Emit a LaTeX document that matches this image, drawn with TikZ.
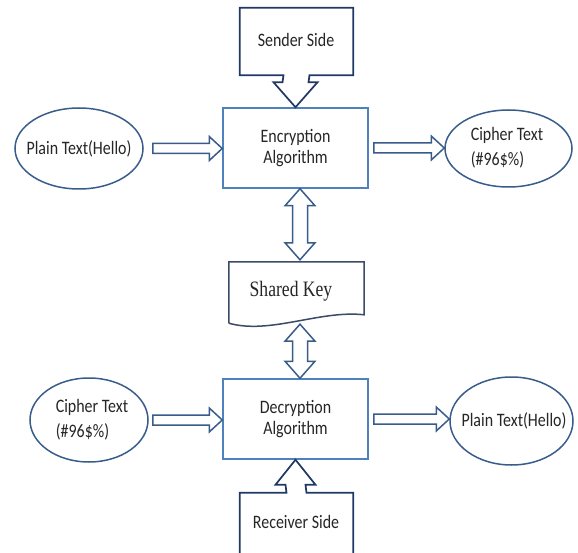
\documentclass[tikz,border=0pt]{standalone}
\usepackage{fontspec}
\setmainfont{Carlito}[FakeStretch=0.84]
\newfontfamily\serifkey{Liberation Serif}[FakeStretch=0.8]
\usetikzlibrary{shapes.geometric,calc}
\definecolor{boxblue}{HTML}{4F81BD}
\definecolor{navy}{HTML}{385D8A}
\definecolor{darknavy}{HTML}{1F3864}
\definecolor{keyline}{HTML}{3B4A66}
\definecolor{txt}{HTML}{262626}
\newcommand\blockarrowH[2]{%
  \draw[blk] let \p1=(#1), \p2=(#2) in
    (\x1,\y1-5pt) -- (\x2-13pt,\y1-5pt) -- (\x2-13pt,\y1-12pt) -- (\x2,\y1)
    -- (\x2-13pt,\y1+12pt) -- (\x2-13pt,\y1+5pt) -- (\x1,\y1+5pt) -- cycle;}
\newcommand\blockarrowV[2]{%
  \draw[blk] let \p1=(#1), \p2=(#2) in
    (\x1,\y1) -- (\x1+15pt,\y1-17pt) -- (\x1+7.5pt,\y1-17pt) -- (\x1+7.5pt,\y2+17pt)
    -- (\x1+15pt,\y2+17pt) -- (\x1,\y2) -- (\x1-15pt,\y2+17pt) -- (\x1-7.5pt,\y2+17pt)
    -- (\x1-7.5pt,\y1-17pt) -- (\x1-15pt,\y1-17pt) -- cycle;}
\begin{document}
\begin{tikzpicture}[x=1pt,y=-1pt,
  every node/.style={text=txt, font=\fontsize{19}{21.5}\selectfont},
  algbox/.style={draw=boxblue, line width=1.5pt, minimum width=145pt, minimum height=80pt, align=center, inner sep=0pt},
  oval/.style={draw=navy, line width=1.5pt, ellipse, inner sep=0pt},
  ovaltext/.style={align=left, font=\fontsize{19}{25}\selectfont},
  blk/.style={draw=navy, line width=1.5pt, fill=white, line join=miter},
  callout/.style={draw=darknavy, line width=1.7pt, fill=white, line join=miter},
  plainbox/.style={inner sep=0pt},
]
\clip (0,0) rectangle (578,553);
\fill[white] (0,0) rectangle (578,553);

% main boxes
\node[algbox] (enc) at (295.5,148) {Encryption\\Algorithm};
\node[algbox] (dec) at (295.5,419) {Decryption\\Algorithm};

% ellipses
\node[oval, minimum width=128pt, minimum height=81pt] (p1) at (79,148.5) {};
\node[ovaltext] (p1t) at (p1) {Plain Text(Hello)};
\node[oval, minimum width=127pt, minimum height=77pt] (c1) at (508.5,148.5) {};
\node[ovaltext] (c1t) at (507,148) {Cipher Text\\(\#96\$\%)};
\node[oval, minimum width=118pt, minimum height=84pt] (c2) at (89,420) {};
\node[ovaltext] (c2t) at (92,420) {Cipher Text\\(\#96\$\%)};
\node[oval, minimum width=123pt, minimum height=88pt] (p2) at (511.5,421) {};
\node[ovaltext] (p2t) at (514,421) {Plain Text(Hello)};

% horizontal block arrows
\blockarrowH{$(p1.east)+(9,0)$}{enc.west}
\blockarrowH{$(enc.east)+(5,0)$}{c1.west}
\blockarrowH{$(c2.east)+(4,0)$}{dec.west}
\blockarrowH{$(dec.east)+(5,0)$}{p2.west}

% shared key
\node[plainbox, minimum width=135pt, minimum height=61pt] (key) at (296.5,292.5) {};
\draw[draw=keyline, line width=1.5pt, fill=white] (key.south west) -- (key.north west) -- (key.north east)
  -- ($(key.north east)+(0,53)$)
  .. controls ($(key.north east)+(-44,48)$) and ($(key.north west)+(41,73)$) .. (key.south west);
\node[font=\serifkey\fontsize{22}{24}\selectfont, text=black!85] (keyt) at (291,291) {Shared Key};

% vertical double arrows
\blockarrowV{$(enc.south)+(4.5,0)$}{$(key.north)+(3.5,-2)$}
\blockarrowV{$(key.south)+(3.5,1)$}{$(dec.north)+(4.5,0)$}

% sender callout
\node[plainbox, minimum width=113pt, minimum height=67pt] (send) at (296.5,41.5) {};
\draw[callout] (send.south west) -- (send.north west) -- (send.north east) -- (send.south east)
  -- ($(send.south)+(13,0)$) -- ($(enc.north)+(13,-25)$) -- ($(enc.north)+(22,-25)$)
  -- (enc.north) -- ($(enc.north)+(-22,-25)$) -- ($(enc.north)+(-13,-25)$)
  -- ($(send.south)+(-13,0)$) -- cycle;
\node (sendt) at (296,40) {Sender Side};

% receiver callout
\node[plainbox, minimum width=113pt, minimum height=60pt] (recv) at (296.5,523) {};
\draw[callout] ($(recv.south west)+(0,10)$) -- (recv.north west) -- ($(recv.north)+(-10,0)$)
  -- ($(dec.south)+(-10,25)$) -- ($(dec.south)+(-20,25)$) -- (dec.south)
  -- ($(dec.south)+(20,25)$) -- ($(dec.south)+(10,25)$) -- ($(recv.north)+(10,0)$)
  -- (recv.north east) -- ($(recv.south east)+(0,10)$);
\node (recvt) at (296,522) {Receiver Side};
\end{tikzpicture}
\end{document}
